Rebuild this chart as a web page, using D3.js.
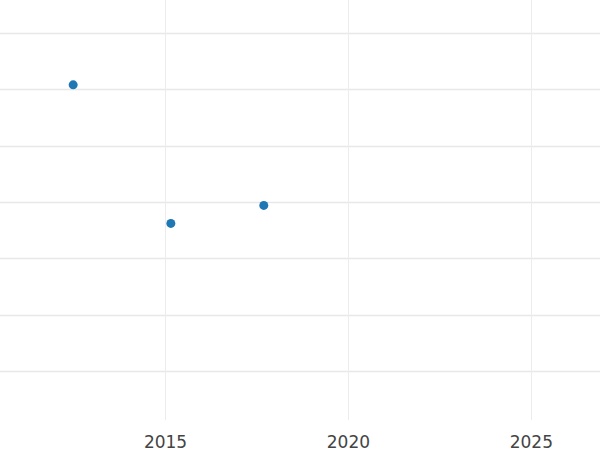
<!DOCTYPE html>
<html><head><meta charset="utf-8">
<script src="https://cdn.jsdelivr.net/npm/d3@7"></script>
<style>body{margin:0;background:#fff}</style></head>
<body><svg id="c" width="600" height="450"></svg>
<script>
const years = [2012.49, 2015.16, 2017.70];
const values = [2.54, 1.31, 1.47];
const xTicks = [2015, 2020, 2025];
const yTicks = [0, 0.5, 1, 1.5, 2, 2.5, 3];

const svg = d3.select("#c");
const x = d3.scaleLinear().domain([2010.49, 2026.89]).range([0, 600]);
const y = d3.scaleLinear().domain([0, 3]).range([371, 33]);

svg.append("g").selectAll("line").data(yTicks).join("line")
  .attr("x1", 0).attr("x2", 600)
  .attr("y1", d => Math.round(y(d)) + 0.5).attr("y2", d => Math.round(y(d)) + 0.5)
  .attr("stroke", "#e8e8e8").attr("stroke-width", 1.3);
svg.append("g").selectAll("line").data(xTicks).join("line")
  .attr("x1", d => Math.round(x(d)) + 0.5).attr("x2", d => Math.round(x(d)) + 0.5)
  .attr("y1", 0).attr("y2", 420)
  .attr("stroke", "#ececec").attr("stroke-width", 1);

const xa = svg.append("g").attr("transform", "translate(0,433)")
  .call(d3.axisBottom(x).tickValues(xTicks).tickFormat(d3.format("d")).tickSize(0));
xa.select(".domain").remove();
xa.selectAll("text").attr("font-family", "DejaVu Sans").attr("font-size", 17).attr("fill", "#444").attr("dy", "0.71em");

svg.append("g").selectAll("circle").data(years).join("circle")
  .attr("cx", d => x(d)).attr("cy", (d, i) => y(values[i]))
  .attr("r", 4.5).attr("fill", "#1f77b4");
</script></body></html>
